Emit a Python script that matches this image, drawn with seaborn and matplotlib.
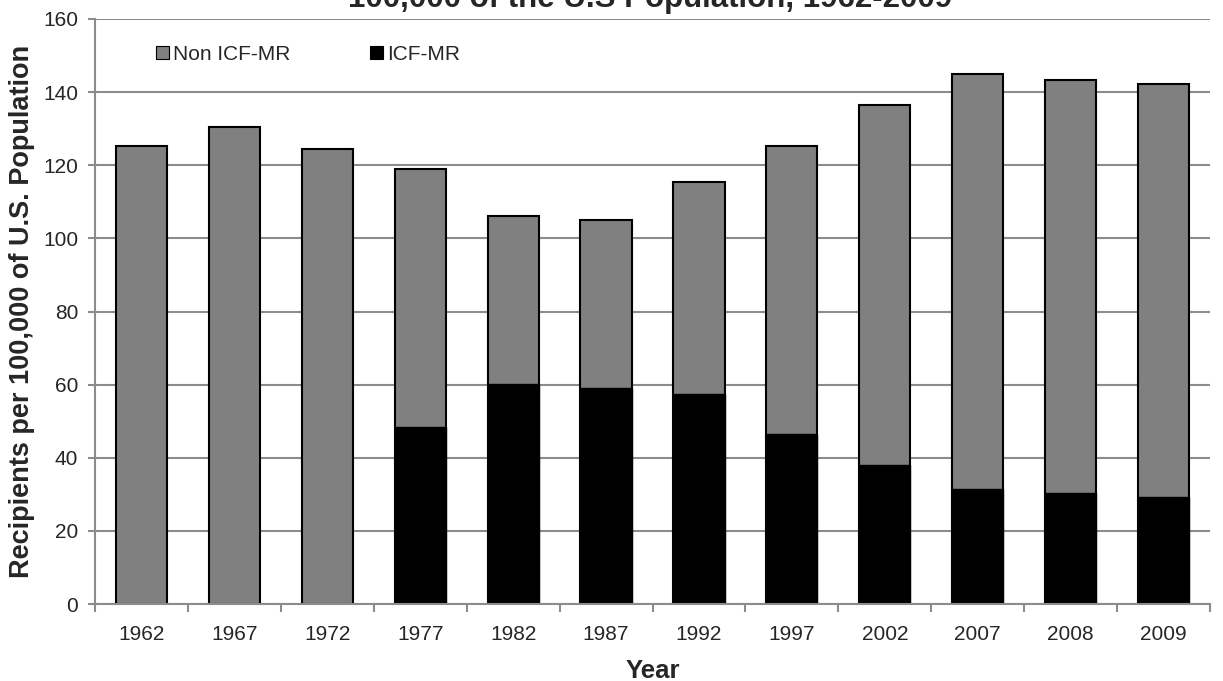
import numpy as np
import pandas as pd
import matplotlib
matplotlib.use('Agg')
import matplotlib.pyplot as plt
import seaborn as sns
from matplotlib.patches import Patch

# Data
years = ['1962', '1967', '1972', '1977', '1982', '1987', '1992', '1997', '2002', '2007', '2008', '2009']
icf_mr = [0, 0, 0, 48.3, 60.2, 59.2, 57.3, 46.5, 38.0, 31.4, 30.3, 29.2]
non_icf_mr = [125.4, 130.4, 124.4, 70.7, 46.0, 45.8, 58.1, 78.9, 98.4, 113.6, 113.1, 113.1]

sns.set_style('white')
plt.rcParams['font.family'] = ['Liberation Sans', 'DejaVu Sans']

df = pd.DataFrame({'year': years, 'icf': icf_mr, 'non': non_icf_mr})
df['top'] = df['icf'] + df['non']

fig = plt.figure(figsize=(12.23, 6.81), dpi=100)
ax = fig.add_axes([95 / 1223, 1 - 604 / 681, (1210 - 95) / 1223, (604 - 19) / 681])

grid_col = '#8c8c8c'
ax.set_axisbelow(True)
ax.yaxis.grid(True, color=grid_col, linewidth=1.5)

# Stacked bars: full height in gray, ICF-MR part in black on top of it
sns.barplot(data=df, x='year', y='top', color='#808080', edgecolor='black',
            linewidth=1.5, width=0.55, saturation=1, ax=ax)
sns.barplot(data=df, x='year', y='icf', color='black', edgecolor='black',
            linewidth=1.0, width=0.55, saturation=1, ax=ax)

ax.set_ylim(0, 160)
ax.set_xlim(-0.5, len(years) - 0.5)
ax.set_yticks(np.arange(0, 161, 20))
ax.tick_params(axis='y', labelsize=15, length=5, color=grid_col, width=1.5, pad=7, left=True)
ax.tick_params(axis='x', which='major', labelsize=15, length=0, pad=15)
ax.set_xticks(np.arange(-0.5, len(years), 1), minor=True)
ax.tick_params(axis='x', which='minor', length=6, color=grid_col, width=1.5, bottom=True)

for s in ['top', 'right']:
    ax.spines[s].set_visible(False)
for s in ['left', 'bottom']:
    ax.spines[s].set_color(grid_col)
    ax.spines[s].set_linewidth(1.5)

ax.set_xlabel('Year', fontsize=18.5, fontweight='bold', labelpad=11)
ax.set_ylabel('Recipients per 100,000 of U.S. Population', fontsize=19.5, fontweight='bold', labelpad=6)

handles = [Patch(facecolor='#808080', edgecolor='black', linewidth=0.8, label='Non ICF-MR'),
           Patch(facecolor='black', edgecolor='black', linewidth=0.8, label='ICF-MR')]
ax.legend(handles=handles, loc='upper left', bbox_to_anchor=(0.0547, 0.956), ncol=2,
          frameon=False, fontsize=15, handlelength=0.62, handleheight=0.62,
          handletextpad=0.2, columnspacing=3.8, borderpad=0, borderaxespad=0)

fig.text(650 / 1223, 1 - 7.5 / 681, '100,000 of the U.S Population, 1962-2009',
         ha='center', va='baseline', fontsize=22.5, fontweight='bold')

fig.savefig('out.png', dpi=100)
